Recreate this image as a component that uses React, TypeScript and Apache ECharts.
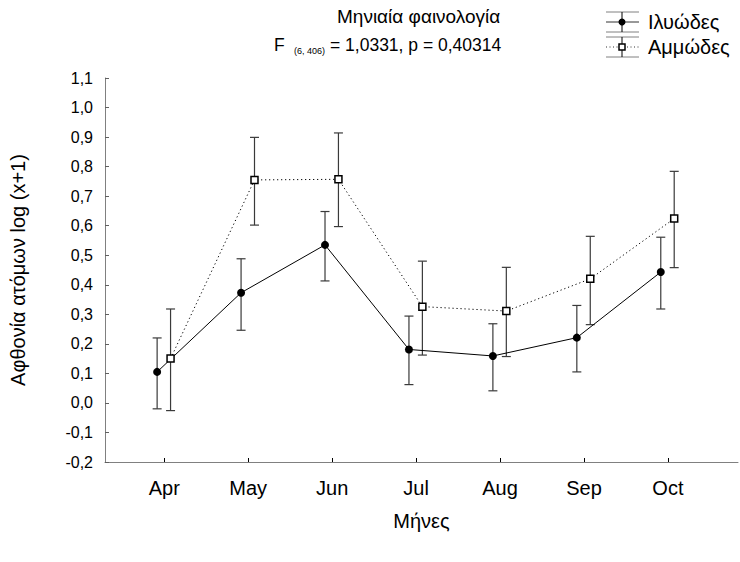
import React, { useEffect, useRef } from 'react';
import * as echarts from 'echarts';

const months = ['Apr', 'May', 'Jun', 'Jul', 'Aug', 'Sep', 'Oct'];
const monthIndex = [0, 1, 2, 3, 4, 5, 6];

// Ιλυώδες (silty) – mean and 95% CI
const siltMean = [0.105, 0.373, 0.535, 0.181, 0.159, 0.221, 0.443];
const siltHigh = [0.220, 0.488, 0.648, 0.294, 0.268, 0.330, 0.561];
const siltLow = [-0.020, 0.246, 0.413, 0.062, 0.041, 0.105, 0.318];

// Αμμώδες (sandy) – mean and 95% CI
const sandMean = [0.150, 0.755, 0.757, 0.326, 0.311, 0.420, 0.624];
const sandHigh = [0.318, 0.899, 0.914, 0.480, 0.459, 0.564, 0.784];
const sandLow = [-0.026, 0.602, 0.597, 0.162, 0.157, 0.265, 0.458];

const Y_MIN = -0.2;
const Y_MAX = 1.1;
const Y_STEP = 0.1;

// small horizontal dodge of the two groups (in category units)
const SILT_SHIFT = -0.085;
const SAND_SHIFT = 0.075;

const FONT = '"Liberation Sans", Arial, sans-serif';

function fmt(v: number) {
  if (Math.abs(v) < 1e-9) return '0,0';
  return v.toFixed(1).replace('.', ',');
}

function errorSeries(name: string, low: number[], high: number[], shift: number) {
  return {
    name: name + '_err',
    type: 'custom',
    z: 1,
    silent: true,
    encode: { x: 0, y: [1, 2] },
    data: monthIndex.map((i) => [i + shift, low[i], high[i]]),
    renderItem: (params: any, api: any) => {
      const x = api.value(0);
      const lo = api.coord([x, api.value(1)]);
      const hi = api.coord([x, api.value(2)]);
      const w = 4.5;
      const style = { stroke: '#3a3a3a', lineWidth: 1.2 };
      return {
        type: 'group',
        children: [
          { type: 'line', shape: { x1: hi[0], y1: hi[1], x2: lo[0], y2: lo[1] }, style },
          { type: 'line', shape: { x1: hi[0] - w, y1: hi[1], x2: hi[0] + w, y2: hi[1] }, style },
          { type: 'line', shape: { x1: lo[0] - w, y1: lo[1], x2: lo[0] + w, y2: lo[1] }, style },
        ],
      };
    },
  };
}

export default function App() {
  const ref = useRef<HTMLDivElement>(null);

  useEffect(() => {
    document.body.style.margin = '0';
    if (!ref.current) return;
    const chart = echarts.init(ref.current, null, { renderer: 'svg' });

    const option: any = {
      animation: false,
      backgroundColor: '#ffffff',
      textStyle: { fontFamily: FONT },
      grid: { left: 97, top: 78, width: 641, height: 384, containLabel: false },
      xAxis: {
        type: 'value',
        min: -0.706,
        max: 6.835,
        name: 'Μήνες',
        nameLocation: 'middle',
        nameGap: 49,
        nameTextStyle: { fontSize: 20, color: '#000', fontFamily: FONT },
        axisLine: { show: true, onZero: false, lineStyle: { color: '#808080', width: 1 } },
        axisTick: { show: true, inside: true, length: 4, customValues: monthIndex, lineStyle: { color: '#000' } },
        axisLabel: {
          customValues: monthIndex,
          formatter: (v: number) => months[Math.round(v)] ?? '',
          fontSize: 20,
          color: '#000',
          margin: 16,
          fontFamily: FONT,
        },
        splitLine: { show: false },
      },
      yAxis: {
        type: 'value',
        min: Y_MIN,
        max: Y_MAX,
        interval: Y_STEP,
        name: 'Αφθονία ατόμων log (x+1)',
        nameLocation: 'middle',
        nameRotate: 90,
        nameGap: 77,
        nameTextStyle: { fontSize: 20, color: '#000', fontFamily: FONT },
        axisLine: { show: true, onZero: false, lineStyle: { color: '#808080', width: 1 } },
        axisTick: { show: true, inside: true, length: 4, lineStyle: { color: '#606060' } },
        axisLabel: { formatter: fmt, fontSize: 16, color: '#000', margin: 12, fontFamily: FONT },
        splitLine: { show: false },
      },
      graphic: [
        { type: 'text', left: 337, top: 7, style: { text: 'Μηνιαία φαινολογία', fill: '#000', font: `19px ${FONT}` } },
        { type: 'text', left: 274, top: 36, style: { text: 'F', fill: '#000', font: `17.5px ${FONT}` } },
        { type: 'text', left: 294, top: 46, style: { text: '(6, 406)', fill: '#000', font: `9px ${FONT}` } },
        { type: 'text', left: 330, top: 36, style: { text: '= 1,0331, p = 0,40314', fill: '#000', font: `17.5px ${FONT}` } },
        // legend
        { type: 'line', shape: { x1: 606, y1: 12, x2: 639, y2: 12 }, style: { stroke: '#808080', lineWidth: 1 } },
        { type: 'line', shape: { x1: 606, y1: 22, x2: 639, y2: 22 }, style: { stroke: '#333', lineWidth: 1 } },
        { type: 'line', shape: { x1: 606, y1: 32, x2: 639, y2: 32 }, style: { stroke: '#808080', lineWidth: 1 } },
        { type: 'line', shape: { x1: 622, y1: 12, x2: 622, y2: 32 }, style: { stroke: '#000', lineWidth: 1 } },
        { type: 'circle', shape: { cx: 622, cy: 22, r: 3.5 }, style: { fill: '#000' } },
        { type: 'text', left: 648, top: 12, style: { text: 'Ιλυώδες', fill: '#000', font: `20px ${FONT}` } },
        { type: 'line', shape: { x1: 606, y1: 37, x2: 639, y2: 37 }, style: { stroke: '#808080', lineWidth: 1 } },
        { type: 'line', shape: { x1: 606, y1: 47, x2: 639, y2: 47 }, style: { stroke: '#333', lineWidth: 1, lineDash: [1, 2.5] } },
        { type: 'line', shape: { x1: 606, y1: 57, x2: 639, y2: 57 }, style: { stroke: '#808080', lineWidth: 1 } },
        { type: 'line', shape: { x1: 622, y1: 37, x2: 622, y2: 57 }, style: { stroke: '#000', lineWidth: 1 } },
        { type: 'rect', shape: { x: 619, y: 44, width: 6, height: 6 }, style: { fill: '#fff', stroke: '#000', lineWidth: 1.5 } },
        { type: 'text', left: 648, top: 37, style: { text: 'Αμμώδες', fill: '#000', font: `20px ${FONT}` } },
      ],
      series: [
        errorSeries('Ιλυώδες', siltLow, siltHigh, SILT_SHIFT),
        errorSeries('Αμμώδες', sandLow, sandHigh, SAND_SHIFT),
        {
          name: 'Ιλυώδες',
          type: 'line',
          z: 3,
          data: monthIndex.map((i) => [i + SILT_SHIFT, siltMean[i]]),
          symbol: 'circle',
          symbolSize: 8,
          itemStyle: { color: '#000' },
          lineStyle: { color: '#000', width: 1 },
        },
        {
          name: 'Αμμώδες',
          type: 'line',
          z: 3,
          data: monthIndex.map((i) => [i + SAND_SHIFT, sandMean[i]]),
          symbol: 'rect',
          symbolSize: 7,
          itemStyle: { color: '#fff', borderColor: '#000', borderWidth: 1.5 },
          lineStyle: { color: '#000', width: 1, type: [1.2, 2.8] },
        },
      ],
    };

    chart.setOption(option);
    return () => chart.dispose();
  }, []);

  return <div ref={ref} style={{ width: 740, height: 562 }} />;
}
